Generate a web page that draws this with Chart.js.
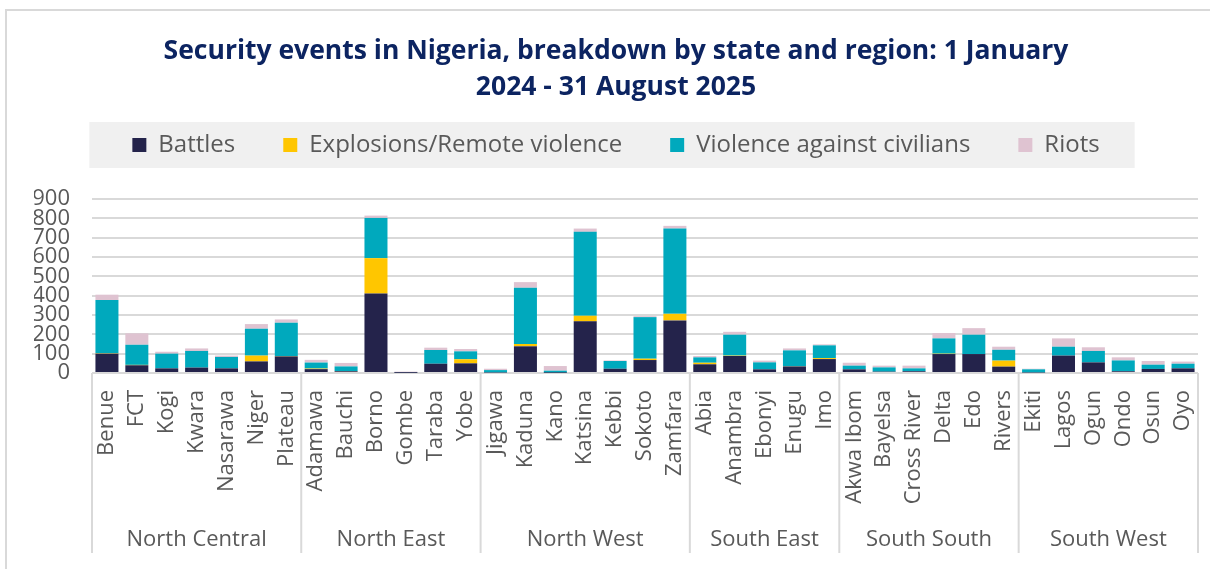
<!DOCTYPE html>
<html><head><meta charset="utf-8">
<script src="https://cdn.jsdelivr.net/npm/chart.js@4.4.1/dist/chart.umd.min.js"></script>
<style>html,body{margin:0;padding:0;background:#fff;}#wrap{width:1210px;height:569px;position:relative;}</style>
</head><body><div id="wrap"><canvas id="c" width="1210" height="569"></canvas></div>
<script>
const titleLines = ['Security events in Nigeria, breakdown by state and region: 1 January', '2024 - 31 August 2025'];
const states = ['Benue','FCT','Kogi','Kwara','Nasarawa','Niger','Plateau',
  'Adamawa','Bauchi','Borno','Gombe','Taraba','Yobe',
  'Jigawa','Kaduna','Kano','Katsina','Kebbi','Sokoto','Zamfara',
  'Abia','Anambra','Ebonyi','Enugu','Imo',
  'Akwa Ibom','Bayelsa','Cross River','Delta','Edo','Rivers',
  'Ekiti','Lagos','Ogun','Ondo','Osun','Oyo'];
const regions = ['North Central','North East','North West','South East','South South','South West'];
const regionSizes = [7,6,7,5,6,6];
const battles    = [100,40,24,28,24,60,86, 20,9,411,1,48,50, 3,138,2,267,22,67,272, 45,88,19,34,72, 19,7,9,98,98,33, 3,90,55,9,21,24];
const explosions = [2,2,0,0,0,30,2, 3,1,183,0,0,21, 0,12,0,29,0,7,34, 8,2,0,1,5, 0,0,0,2,0,31, 0,0,0,0,0,0];
const violence   = [275,104,76,86,59,139,172, 31,24,208,1,71,41, 12,291,10,434,40,215,441, 28,108,36,82,66, 19,22,15,79,100,56, 16,46,59,56,22,24];
const riots      = [28,59,10,13,7,24,17, 14,18,12,5,12,12, 7,29,24,17,3,5,14, 7,15,9,10,5, 15,9,14,28,34,16, 3,43,19,16,19,11];
const seriesNames = ['Battles','Explosions/Remote violence','Violence against civilians','Riots'];
const yTicks = [0,100,200,300,400,500,600,700,800,900];

const FONT = '"Open Sans"';
const GREY = '#595959';
const GRID = '#d9d9d9';
const COLORS = ['#24234b','#ffc600','#00a9bd','#dfc3d1'];

const framePlugin = {
  id: 'frame',
  afterInit(chart) {
    const lg = chart.legend;
    const orig = lg.fit;
    lg.fit = function () { orig.call(this); this.height += 32; };
  },
  beforeDraw(chart) {
    const c = chart.ctx;
    c.save();
    c.fillStyle = '#fff';
    c.fillRect(0, 0, chart.width, chart.height);
    c.strokeStyle = GRID; c.lineWidth = 2;
    c.beginPath(); c.moveTo(6, chart.height); c.lineTo(6, 10); c.lineTo(chart.width, 10); c.stroke();
    const lg = chart.legend;
    if (lg && lg.legendHitBoxes && lg.legendHitBoxes.length) {
      const hb = lg.legendHitBoxes;
      const first = hb[0], last = hb[hb.length - 1];
      const cy = first.top + first.height / 2;
      const x0 = first.left - 43, x1 = last.left + last.width + 35;
      c.fillStyle = '#f0f0f0';
      c.fillRect(x0, cy - 23, x1 - x0, 46);
    }
    c.restore();
  }
};

const groupPlugin = {
  id: 'groups',
  afterDraw(chart) {
    const xs = chart.scales.x, ca = chart.chartArea, c = chart.ctx;
    const half = (xs.getPixelForValue(1) - xs.getPixelForValue(0)) / 2;
    c.save();
    c.strokeStyle = GRID; c.lineWidth = 2;
    c.font = '22px ' + FONT; c.fillStyle = GREY; c.textAlign = 'center'; c.textBaseline = 'middle';
    let start = 0;
    regionSizes.forEach((n, i) => {
      const x0 = xs.getPixelForValue(start) - half;
      const x1 = xs.getPixelForValue(start + n - 1) + half;
      c.beginPath(); c.moveTo(x0, ca.bottom); c.lineTo(x0, ca.bottom + 180); c.stroke();
      if (i === regionSizes.length - 1) { c.beginPath(); c.moveTo(x1, ca.bottom); c.lineTo(x1, ca.bottom + 180); c.stroke(); }
      c.fillText(regions[i], (x0 + x1) / 2, ca.bottom + 167);
      start += n;
    });
    c.restore();
  }
};

const data = {
  labels: states,
  datasets: [battles, explosions, violence, riots].map((d, i) => ({
    label: seriesNames[i], data: d, backgroundColor: COLORS[i], borderWidth: 0,
    barPercentage: 0.77, categoryPercentage: 1.0
  }))
};

new Chart(document.getElementById('c'), {
  type: 'bar',
  data,
  plugins: [framePlugin, groupPlugin],
  options: {
    responsive: false, animation: false, devicePixelRatio: 1,
    layout: { padding: { left: 34, right: 12, top: 0, bottom: 0 } },
    plugins: {
      title: { display: true, text: titleLines, color: '#0c2461',
        font: { family: FONT, size: 26.5, weight: 'bold', lineHeight: 1.358 },
        padding: { top: 33, bottom: -20 } },
      legend: { display: true, position: 'top',
        labels: { color: GREY, font: { family: FONT, size: 24 }, boxWidth: 14, boxHeight: 14, padding: 48 } },
      tooltip: { enabled: false }
    },
    scales: {
      x: { stacked: true,
        grid: { display: false, drawTicks: false }, border: { display: false },
        ticks: { autoSkip: false, minRotation: 90, maxRotation: 90, padding: 17, color: GREY, font: { family: FONT, size: 22 } },
        afterFit(s) { s.height = 196; s.paddingLeft = 0; s.paddingRight = 0; } },
      y: { stacked: true, min: 0, max: 900,
        afterBuildTicks(s) { s.ticks = yTicks.map(v => ({ value: v })); },
        grid: { color: GRID, lineWidth: 2, drawTicks: false }, border: { display: false },
        ticks: { autoSkip: false, padding: 22, color: GREY, font: { family: FONT, size: 22 } },
        afterFit(s) { s.width = 58; s.paddingTop = 0; s.paddingBottom = 0; } }
    }
  }
});
</script></body></html>
